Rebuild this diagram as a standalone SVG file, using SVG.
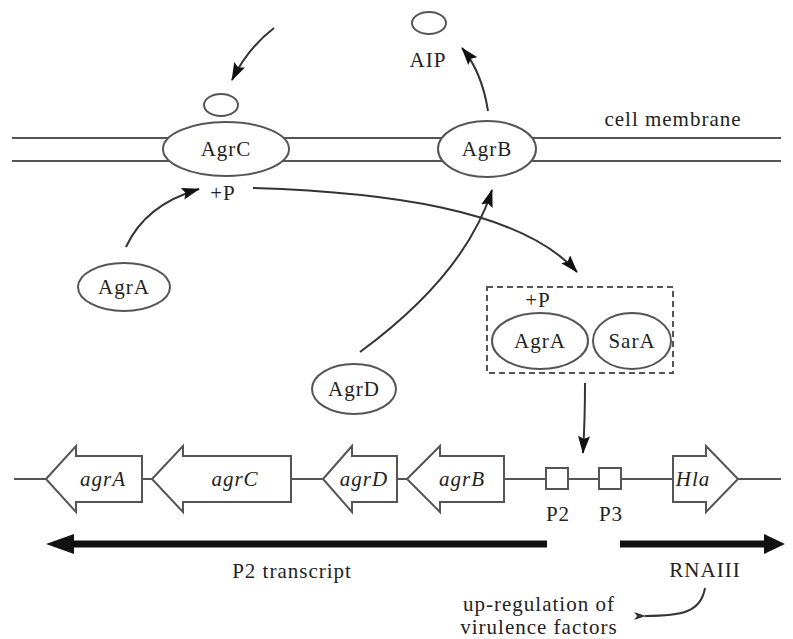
<svg xmlns="http://www.w3.org/2000/svg" width="793" height="639" viewBox="0 0 793 639">
  <style>
    .lbl { font-family: "Liberation Serif", "Times New Roman", serif; font-size: 21px; letter-spacing: 1px; fill: #222; text-anchor: middle; }
    .gene { font-family: "Liberation Serif", "Times New Roman", serif; font-size: 21px; font-style: italic; letter-spacing: 1px; fill: #222; text-anchor: middle; }
    .shape { fill: #fff; stroke: #555; stroke-width: 2; }
    .mem { stroke: #555; stroke-width: 2; fill: none; }
    .conn { fill: none; stroke: #333; stroke-width: 2; }
    .thick { fill: none; stroke: #111; stroke-width: 7; }
  </style>
  <defs>
    <marker id="head" markerUnits="userSpaceOnUse" markerWidth="18" markerHeight="12" viewBox="0 0 18 12" refX="17" refY="6" orient="auto">
      <path d="M0,0 L18,6 L0,12 L3,6 Z" fill="#111"/>
    </marker>
    <marker id="small" markerUnits="userSpaceOnUse" markerWidth="12" markerHeight="8" viewBox="0 0 12 8" refX="1" refY="4" orient="auto-start-reverse">
      <path d="M0,4 L12,0 L9,4 L12,8 Z" fill="#333"/>
    </marker>
  </defs>

  <!-- membrane bilayer -->
  <g id="membrane">
    <line class="mem" x1="12" y1="138" x2="781" y2="138"/>
    <line class="mem" x1="12" y1="161" x2="781" y2="161"/>
    <text class="lbl" x="673" y="126">cell membrane</text>
  </g>

  <!-- connectors -->
  <g id="connectors">
    <path class="conn" d="M274,28 Q248,48 232,80" marker-end="url(#head)"/>
    <path class="conn" d="M488,111 Q482,72 462,48" marker-end="url(#head)"/>
    <path class="conn" d="M126,247 Q145,205 199,189" marker-end="url(#head)"/>
    <path class="conn" d="M253,188 C380,192 520,208 577,272" marker-end="url(#head)"/>
    <path class="conn" d="M360,352 Q465,275 492,190" marker-end="url(#head)"/>
    <path class="conn" d="M585,383 Q585,420 583,453" marker-end="url(#head)"/>
    <path class="conn" d="M705,588 C701,612 682,616 645,616" marker-end="url(#small)"/>
    <!-- transcripts -->
    <line class="thick" x1="547" y1="544" x2="60" y2="544"/>
    <path d="M46,544 L74,534 L74,554 Z" fill="#111"/>
    <line class="thick" x1="620" y1="544" x2="770" y2="544"/>
    <path d="M785,544 L764,534 L764,554 Z" fill="#111"/>
  </g>

  <!-- AgrC receptor with bound AIP -->
  <g id="agrC">
    <ellipse class="shape" cx="226" cy="149" rx="63" ry="27"/>
    <text class="lbl" x="226" y="156">AgrC</text>
    <ellipse class="shape" cx="221" cy="105" rx="17" ry="11"/>
    <text class="lbl" x="223" y="200">+P</text>
  </g>

  <g id="agrB">
    <ellipse class="shape" cx="487" cy="149" rx="49" ry="28"/>
    <text class="lbl" x="487" y="156">AgrB</text>
  </g>

  <g id="aip">
    <ellipse class="shape" cx="429" cy="23" rx="17" ry="11"/>
    <text class="lbl" x="428" y="67">AIP</text>
  </g>

  <g id="agrA">
    <ellipse class="shape" cx="124" cy="287" rx="46" ry="24"/>
    <text class="lbl" x="124" y="294">AgrA</text>
  </g>

  <g id="agrD">
    <ellipse class="shape" cx="354" cy="389" rx="42" ry="25"/>
    <text class="lbl" x="354" y="396">AgrD</text>
  </g>

  <!-- phosphorylated AgrA / SarA complex -->
  <g id="complex">
    <rect x="487" y="287" width="186" height="86" fill="none" stroke="#555" stroke-width="2" stroke-dasharray="6,4"/>
    <text class="lbl" x="538" y="307">+P</text>
    <ellipse class="shape" cx="540" cy="341" rx="48" ry="28"/>
    <text class="lbl" x="540" y="348">AgrA</text>
    <ellipse class="shape" cx="632" cy="341" rx="39" ry="28"/>
    <text class="lbl" x="632" y="348">SarA</text>
  </g>

  <!-- agr locus -->
  <g id="dna">
    <line class="mem" x1="14" y1="479" x2="781" y2="479"/>
  </g>
  <g id="gene-agrA">
    <path class="shape" d="M46,479 L76,446 L76,456 L142,456 L142,502 L76,502 L76,512 Z"/>
    <text class="gene" x="103" y="486">agrA</text>
  </g>
  <g id="gene-agrC">
    <path class="shape" d="M152,479 L183,446 L183,456 L291,456 L291,502 L183,502 L183,512 Z"/>
    <text class="gene" x="235" y="486">agrC</text>
  </g>
  <g id="gene-agrD">
    <path class="shape" d="M323,479 L352,446 L352,456 L397,456 L397,502 L352,502 L352,512 Z"/>
    <text class="gene" x="364" y="486">agrD</text>
  </g>
  <g id="gene-agrB">
    <path class="shape" d="M407,479 L440,446 L440,456 L504,456 L504,502 L440,502 L440,512 Z"/>
    <text class="gene" x="462" y="486">agrB</text>
  </g>
  <g id="P2">
    <rect class="shape" x="546" y="468" width="22" height="21"/>
    <text class="lbl" x="558" y="521">P2</text>
  </g>
  <g id="P3">
    <rect class="shape" x="599" y="468" width="22" height="21"/>
    <text class="lbl" x="611" y="521">P3</text>
  </g>
  <g id="gene-hla">
    <path class="shape" d="M738,479 L706,446 L706,456 L673,456 L673,502 L706,502 L706,512 Z"/>
    <text class="gene" x="693" y="486">Hla</text>
  </g>

  <g id="labels">
    <text class="lbl" x="292" y="578">P2 transcript</text>
    <text class="lbl" x="705" y="577">RNAIII</text>
    <text class="lbl" x="539" y="611">up-regulation of</text>
    <text class="lbl" x="539" y="634">virulence factors</text>
  </g>
</svg>
